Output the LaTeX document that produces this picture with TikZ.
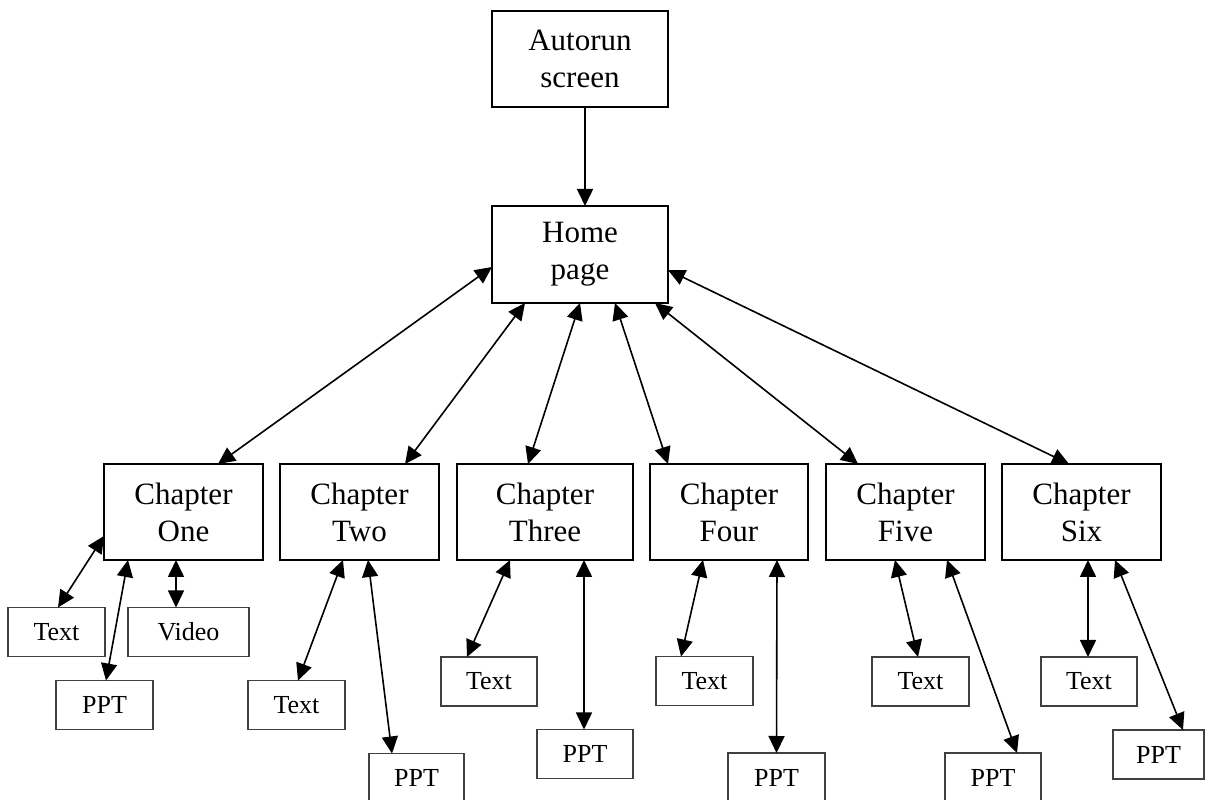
\documentclass[tikz,border=0pt]{standalone}
\usepackage{fontspec}
\setmainfont{Liberation Serif}
\usetikzlibrary{arrows.meta}
\begin{document}
\begin{tikzpicture}[x=1pt,y=1pt,
  bigbox/.style={draw=black,line width=1.6pt,inner sep=0pt,outer sep=0pt,align=center,
    font=\fontsize{31}{37}\selectfont},
  smallbox/.style={draw=black!75,line width=1.4pt,inner sep=0pt,outer sep=0pt,
    minimum height=49pt,font=\fontsize{26}{30}\selectfont},
  tip/.tip={Triangle[length=17pt,width=16pt]},
  link/.style={line width=1.6pt,tip-tip},
  oneway/.style={line width=1.6pt,-tip}]
\useasboundingbox (0,0) rectangle (1205,800);
% top level
\node[bigbox,minimum width=176pt,minimum height=96pt] (auto) at (580,741) {Autorun\\screen};
\node[bigbox,minimum width=176pt,minimum height=97pt] (home) at (580,545.5) {Home\\page};
% chapters
\node[bigbox,minimum width=159pt,minimum height=96pt] (one)   at (183.5,288) {Chapter\\One};
\node[bigbox,minimum width=159pt,minimum height=96pt] (two)   at (359.5,288) {Chapter\\Two};
\node[bigbox,minimum width=176pt,minimum height=96pt] (three) at (545,288)   {Chapter\\Three};
\node[bigbox,minimum width=158pt,minimum height=96pt] (four)  at (729,288)   {Chapter\\Four};
\node[bigbox,minimum width=159pt,minimum height=96pt] (five)  at (905.5,288) {Chapter\\Five};
\node[bigbox,minimum width=159pt,minimum height=96pt] (six)   at (1081.5,288) {Chapter\\Six};
% resources
\node[smallbox,minimum width=97pt]  (text1) at (56.5,168)  {Text};
\node[smallbox,minimum width=121pt] (video) at (188.5,168) {Video};
\node[smallbox,minimum width=97pt]  (ppt1)  at (104.5,95)  {PPT};
\node[smallbox,minimum width=97pt]  (text2) at (296.5,95)  {Text};
\node[smallbox,minimum width=95pt]  (ppt2)  at (416.5,22)  {PPT};
\node[smallbox,minimum width=96pt]  (text3) at (489,118.5) {Text};
\node[smallbox,minimum width=96pt]  (ppt3)  at (585,46)    {PPT};
\node[smallbox,minimum width=97pt]  (text4) at (704.5,119) {Text};
\node[smallbox,minimum width=97pt]  (ppt4)  at (776.5,22.5) {PPT};
\node[smallbox,minimum width=97pt]  (text5) at (920.5,118.5) {Text};
\node[smallbox,minimum width=96pt]  (ppt5)  at (993,22.5)  {PPT};
\node[smallbox,minimum width=96pt]  (text6) at (1089,118.5) {Text};
\node[smallbox,minimum width=91pt]  (ppt6)  at (1158.5,45.5) {PPT};
% autorun to home
\draw[oneway] ([xshift=5pt]auto.south) -- ([xshift=5pt]home.north);
% home to chapters
\draw[link] ([yshift=-12.5pt]home.west) -- ([xshift=114pt]one.north west);
\draw[link] ([xshift=33pt]home.south west) -- ([xshift=125pt]two.north west);
\draw[link] ([xshift=88pt]home.south west) -- ([xshift=71pt]three.north west);
\draw[link] ([xshift=123pt]home.south west) -- ([xshift=18pt]four.north west);
\draw[link] ([xshift=163pt]home.south west) -- ([xshift=32pt]five.north west);
\draw[link] ([yshift=-15.5pt]home.east) -- ([xshift=67pt]six.north west);
% chapters to resources
\draw[link] ([yshift=-24pt]one.west) -- ([xshift=50pt]text1.north west);
\draw[link] ([xshift=24pt]one.south west) -- ([xshift=50pt]ppt1.north west);
\draw[link] ([xshift=72pt]one.south west) -- ([xshift=48pt]video.north west);
\draw[link] ([xshift=63pt]two.south west) -- ([xshift=50pt]text2.north west);
\draw[link] ([xshift=88pt]two.south west) -- ([xshift=23pt]ppt2.north west);
\draw[link] ([xshift=53pt]three.south west) -- ([xshift=26pt]text3.north west);
\draw[link] ([xshift=127pt]three.south west) -- ([xshift=47pt]ppt3.north west);
\draw[link] ([xshift=53pt]four.south west) -- ([xshift=25pt]text4.north west);
\draw[link] ([xshift=127pt]four.south west) -- ([xshift=48.5pt]ppt4.north west);
\draw[link] ([xshift=69pt]five.south west) -- ([xshift=46pt]text5.north west);
\draw[link] ([xshift=121pt]five.south west) -- ([xshift=72pt]ppt5.north west);
\draw[link] ([xshift=86pt]six.south west) -- ([xshift=47pt]text6.north west);
\draw[link] ([xshift=113pt]six.south west) -- ([xshift=70pt]ppt6.north west);
\end{tikzpicture}
\end{document}
